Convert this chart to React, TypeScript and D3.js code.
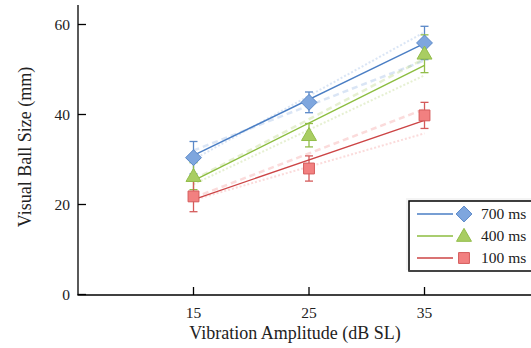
import React from "react";
import * as d3 from "d3";

const amplitudes = [15, 25, 35];
const seriesNames = ["700 ms", "400 ms", "100 ms"];
const means700 = [30.4, 42.7, 55.9];
const means400 = [26.3, 35.4, 53.5];
const means100 = [21.8, 28.0, 39.8];
const err700 = [3.6, 2.3, 3.7];
const err400 = [3.0, 2.6, 4.2];
const err100 = [3.4, 2.8, 2.9];
const fit700 = [30.9, 55.8];
const fit400 = [25.3, 50.9];
const fit100 = [21.1, 38.7];
const dashed700 = [32.0, 52.0];
const dotted700 = [30.0, 58.3];
const dashed400 = [25.5, 52.4];
const dotted400 = [24.5, 48.7];
const dashed100 = [21.5, 41.2];
const dotted100 = [21.0, 35.8];
const fitEnds = [15, 35];
const yTicks = [0, 20, 40, 60];
const xTicks = [15, 25, 35];

const W = 531;
const H = 348;
const font = "'Liberation Serif', 'Times New Roman', serif";

const x = d3.scaleLinear().domain([5, 44.22]).range([78, 531]);
const y = d3.scaleLinear().domain([0, 60]).range([294.5, 24.5]);

const styles = [
  { line: "#4a7ec4", fill: "#7ea6de", stroke: "#5a88c8", shape: d3.symbolDiamond2 },
  { line: "#8cbd3f", fill: "#a9cd62", stroke: "#92bd4a", shape: d3.symbolTriangle2 },
  { line: "#cc4445", fill: "#f28080", stroke: "#d45b5b", shape: d3.symbolSquare2 },
];

const series = [
  { name: seriesNames[0], means: means700, err: err700, fit: fit700, dashed: dashed700, dotted: dotted700 },
  { name: seriesNames[1], means: means400, err: err400, fit: fit400, dashed: dashed400, dotted: dotted400 },
  { name: seriesNames[2], means: means100, err: err100, fit: fit100, dashed: dashed100, dotted: dotted100 },
];

const lineGen = d3
  .line<[number, number]>()
  .x((d) => x(d[0]))
  .y((d) => y(d[1]));

function marker(i: number, cx: number, cy: number, key: string) {
  const s = styles[i];
  const sizes = [160, 160, 150];
  const path = d3.symbol().type(s.shape).size(sizes[i])()!;
  const dy = i === 1 ? 1 : 0;
  return (
    <path
      key={key}
      d={path}
      transform={`translate(${cx},${cy + dy})`}
      fill={s.fill}
      stroke={s.stroke}
      strokeWidth={1}
    />
  );
}

export default function App() {
  return (
    <svg width={W} height={H} style={{ position: "absolute", left: 0, top: 0 }}>
      <rect width={W} height={H} fill="#fff" />
      {series.map((s, i) => (
        <g key={"faint" + i} opacity={0.28}>
          <path
            d={lineGen(fitEnds.map((a, j) => [a, s.dashed[j]] as [number, number]))!}
            stroke={styles[i].fill}
            strokeWidth={2.5}
            strokeDasharray="6,4"
            fill="none"
          />
          <path
            d={lineGen(fitEnds.map((a, j) => [a, s.dotted[j]] as [number, number]))!}
            stroke={styles[i].fill}
            strokeWidth={2}
            strokeDasharray="2,2"
            fill="none"
          />
        </g>
      ))}
      {series.map((s, i) =>
        amplitudes.map((a, j) => {
          const cx = x(a);
          const t = y(s.means[j] + s.err[j]);
          const b = y(s.means[j] - s.err[j]);
          return (
            <g key={`eb${i}-${j}`} stroke={styles[i].stroke} strokeWidth={1.3}>
              <line x1={cx} x2={cx} y1={t} y2={b} />
              <line x1={cx - 4} x2={cx + 4} y1={t} y2={t} />
              <line x1={cx - 4} x2={cx + 4} y1={b} y2={b} />
            </g>
          );
        })
      )}
      {series.map((s, i) => (
        <path
          key={"fit" + i}
          d={lineGen(fitEnds.map((a, j) => [a, s.fit[j]] as [number, number]))!}
          stroke={styles[i].line}
          strokeWidth={1.4}
          fill="none"
        />
      ))}
      {series.map((s, i) =>
        amplitudes.map((a, j) => marker(i, x(a), y(s.means[j]), `m${i}-${j}`))
      )}
      <g stroke="#000" strokeWidth={1.3}>
        <line x1={78} x2={78} y1={5} y2={295} />
        <line x1={77.4} x2={531} y1={295} y2={295} />
        {yTicks.map((t) => (
          <line key={"yt" + t} x1={78} x2={86} y1={y(t)} y2={y(t)} />
        ))}
        {xTicks.map((t) => (
          <line key={"xt" + t} x1={x(t)} x2={x(t)} y1={295} y2={287} />
        ))}
      </g>
      <g fontFamily={font} fontSize={15.5} fill="#222">
        {yTicks.map((t) => (
          <text key={"yl" + t} x={70} y={y(t)} dy="0.35em" textAnchor="end">
            {t}
          </text>
        ))}
        {xTicks.map((t) => (
          <text key={"xl" + t} x={x(t)} y={318} textAnchor="middle">
            {t}
          </text>
        ))}
      </g>
      <text
        x={295}
        y={339}
        textAnchor="middle"
        fontFamily={font}
        fontSize={18}
        fill="#222"
      >
        Vibration Amplitude (dB SL)
      </text>
      <text
        transform="translate(31,147) rotate(-90)"
        textAnchor="middle"
        fontFamily={font}
        fontSize={18}
        fill="#222"
      >
        Visual Ball Size (mm)
      </text>
      <g>
        <rect x={406} y={198} width={130} height={72} fill="#f4f4f4" />
        <rect x={409} y={201} width={130} height={70} fill="#fff" stroke="#000" strokeWidth={1.5} />
        <line x1={409} x2={531} y1={271} y2={271} stroke="#444" strokeWidth={2} />
        {series.map((s, i) => {
          const ly = 214 + i * 22;
          return (
            <g key={"lg" + i}>
              <line x1={417} x2={453} y1={ly} y2={ly} stroke={styles[i].line} strokeWidth={1.4} />
              {marker(i, 464, ly, "lm" + i)}
              <text x={481} y={ly} dy="0.35em" fontFamily={font} fontSize={15.5} fill="#222">
                {s.name}
              </text>
            </g>
          );
        })}
      </g>
    </svg>
  );
}
